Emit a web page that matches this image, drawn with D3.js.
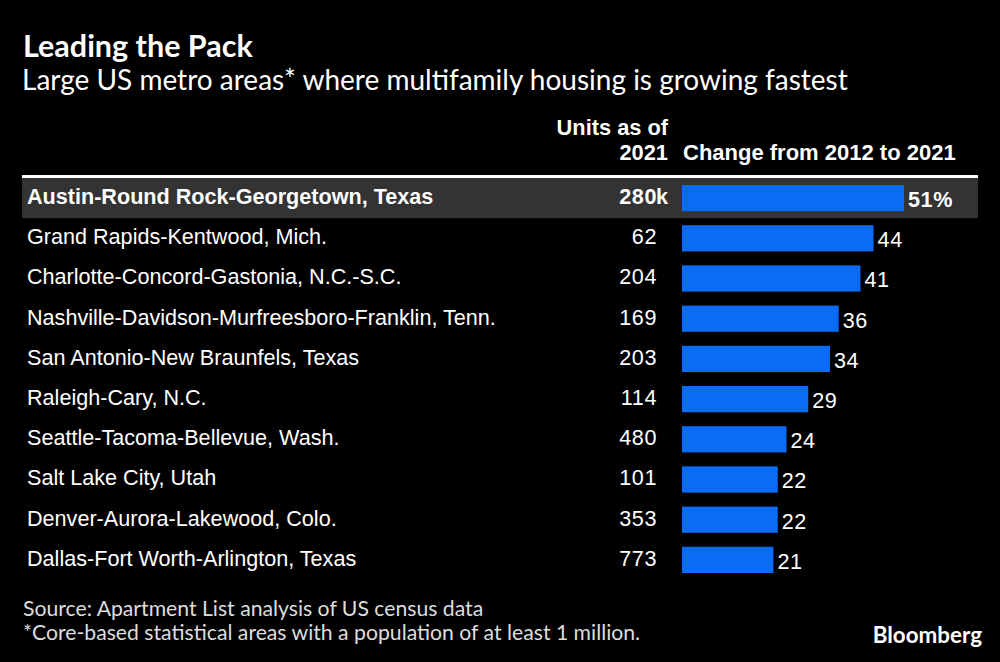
<!DOCTYPE html>
<html>
<head>
<meta charset="utf-8">
<script src="https://cdn.jsdelivr.net/npm/d3@7"></script>
<style>
  html, body { margin: 0; padding: 0; background: #000; }
  svg { display: block; }
  .tbl { font-family: "Liberation Sans", Arial, sans-serif; fill: #fff; }
  .num { letter-spacing: 0.6px; }
  .hum { font-family: Lato, "Noto Sans", sans-serif; }
</style>
</head>
<body>
<div id="viz"></div>
<script>
// data
var metros = [
  "Austin-Round Rock-Georgetown, Texas",
  "Grand Rapids-Kentwood, Mich.",
  "Charlotte-Concord-Gastonia, N.C.-S.C.",
  "Nashville-Davidson-Murfreesboro-Franklin, Tenn.",
  "San Antonio-New Braunfels, Texas",
  "Raleigh-Cary, N.C.",
  "Seattle-Tacoma-Bellevue, Wash.",
  "Salt Lake City, Utah",
  "Denver-Aurora-Lakewood, Colo.",
  "Dallas-Fort Worth-Arlington, Texas"
];
var units2021 = [280, 62, 204, 169, 203, 114, 480, 101, 353, 773];   // thousands
var change = [51, 44, 41, 36, 34, 29, 24, 22, 22, 21];             // percent, 2012 to 2021

var width = 1000, height = 662;
var barColor = "#0a6cf4";
var fs = "21.6px";

var svg = d3.select("#viz").append("svg")
    .attr("width", width)
    .attr("height", height);

svg.append("rect").attr("width", width).attr("height", height).attr("fill", "#000");

// title block
svg.append("text").attr("class", "hum")
    .attr("x", 23).attr("y", 57)
    .attr("font-size", "30.5px").attr("font-weight", 700).attr("fill", "#fff")
    .text("Leading the Pack");
svg.append("text").attr("class", "hum")
    .attr("x", 22).attr("y", 90)
    .attr("font-size", "28px").attr("fill", "#fff")
    .text("Large US metro areas* where multifamily housing is growing fastest");

// scales
var y = d3.scaleBand().domain(metros).range([178, 580]).paddingInner(0);
var x = d3.scaleLinear().domain([0, 51]).range([682, 904]);
var barPad = 7;

// column headers
svg.append("text").attr("class", "tbl")
    .attr("x", 668).attr("y", 135).attr("text-anchor", "end")
    .attr("font-size", "21.8px").attr("font-weight", 700)
    .text("Units as of");
svg.append("text").attr("class", "tbl")
    .attr("x", 668).attr("y", 160).attr("text-anchor", "end")
    .attr("font-size", "21.8px").attr("font-weight", 700)
    .text("2021");
svg.append("text").attr("class", "tbl")
    .attr("x", 683).attr("y", 160)
    .attr("font-size", "22px").attr("font-weight", 700)
    .text("Change from 2012 to 2021");

// highlighted first row
svg.append("rect")
    .attr("x", 22).attr("width", 956)
    .attr("y", y(metros[0])).attr("height", y.bandwidth())
    .attr("fill", "#333");

svg.append("line")
    .attr("x1", 22).attr("x2", 978)
    .attr("y1", 176.5).attr("y2", 176.5)
    .attr("stroke", "#fff").attr("stroke-width", 3);

var rows = svg.selectAll(".row")
    .data(metros)
    .enter().append("g")
    .attr("class", "row")
    .attr("transform", function(d) { return "translate(0," + y(d) + ")"; });

rows.append("text").attr("class", "tbl")
    .attr("x", 27).attr("y", y.bandwidth() / 2 + 6)
    .attr("font-size", fs)
    .attr("font-weight", function(d, i) { return i == 0 ? 700 : 400; })
    .text(function(d) { return d; });

rows.append("text").attr("class", "tbl num")
    .attr("x", 657).attr("y", y.bandwidth() / 2 + 6)
    .attr("text-anchor", "end")
    .attr("font-size", fs)
    .attr("font-weight", function(d, i) { return i == 0 ? 700 : 400; })
    .text(function(d, i) { return units2021[i]; });

// "k" suffix hangs past the number column
svg.append("text").attr("class", "tbl")
    .attr("x", 656).attr("y", y(metros[0]) + y.bandwidth() / 2 + 6)
    .attr("font-size", fs).attr("font-weight", 700)
    .text("k");

rows.append("rect")
    .attr("x", x(0))
    .attr("y", barPad)
    .attr("width", function(d, i) { return x(change[i]) - x(0); })
    .attr("height", y.bandwidth() - 2 * barPad)
    .attr("fill", barColor);

rows.append("text").attr("class", "tbl num")
    .attr("x", function(d, i) { return x(change[i]) + 4; })
    .attr("y", y.bandwidth() / 2 + 9)
    .attr("font-size", fs)
    .attr("font-weight", function(d, i) { return i == 0 ? 700 : 400; })
    .text(function(d, i) { return i == 0 ? change[i] + "%" : change[i]; });

// footer
svg.append("text").attr("class", "hum")
    .attr("x", 23).attr("y", 616)
    .attr("font-size", "21.2px").attr("fill", "#ddd")
    .text("Source: Apartment List analysis of US census data");
svg.append("text").attr("class", "hum")
    .attr("x", 23).attr("y", 640)
    .attr("font-size", "21.2px").attr("fill", "#ddd")
    .text("*Core-based statistical areas with a population of at least 1 million.");

svg.append("text").attr("class", "hum")
    .attr("x", 982).attr("y", 643).attr("text-anchor", "end")
    .attr("font-size", "22.4px").attr("font-weight", 700).attr("fill", "#fff")
    .text("Bloomberg");
</script>
</body>
</html>
